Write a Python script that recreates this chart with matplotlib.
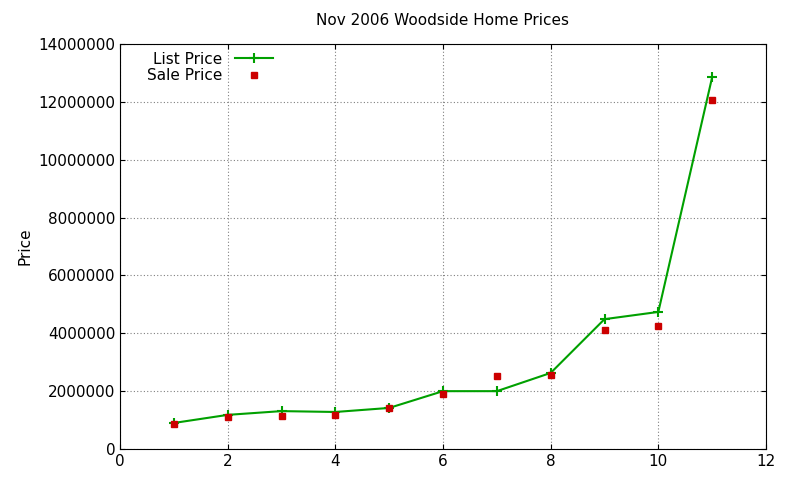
import matplotlib
matplotlib.use("Agg")
import matplotlib.pyplot as plt

x = [1, 2, 3, 4, 5, 6, 7, 8, 9, 10, 11]
list_price = [900000, 1180000, 1310000, 1280000, 1420000, 2000000, 2000000, 2630000, 4490000, 4740000, 12860000]
sale_price = [860000, 1100000, 1140000, 1170000, 1420000, 1900000, 2520000, 2560000, 4110000, 4250000, 12060000]

fig = plt.figure(figsize=(8, 4.8), dpi=100)
ax = fig.add_axes([0.15, 0.0646, 0.8075, 0.8434])
ax.plot(x, list_price, color="#00a000", lw=1.5, marker="+", ms=7, mew=1.5, label="List Price")
ax.plot(x, sale_price, ls="none", marker="s", color="#cc0000", ms=5, label="Sale Price")
ax.set_xlim(0, 12)
ax.set_ylim(0, 14000000)
ax.set_xticks(range(0, 13, 2))
ax.set_yticks(range(0, 14000001, 2000000))
ax.ticklabel_format(style="plain", axis="y")
ax.grid(True, ls=(0, (1, 2)), color="#808080", lw=0.8)
ax.tick_params(direction="in", top=True, right=True, labelsize=11)
ax.set_ylabel("Price", fontsize=11)
ax.set_title("Nov 2006 Woodside Home Prices", fontsize=11, pad=14)
leg = ax.legend(loc="upper left", markerfirst=False, frameon=False, fontsize=11,
                handlelength=2.5, borderaxespad=0.1, labelspacing=0.1, bbox_to_anchor=(0.03, 1.0))
for t in leg.get_texts():
    t.set_ha("right")
fig.savefig("out.png")
